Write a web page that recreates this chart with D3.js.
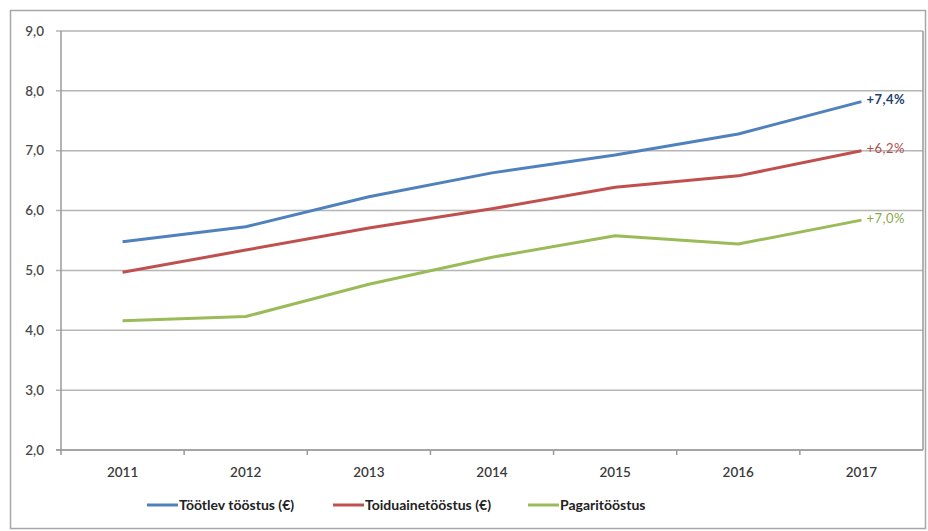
<!DOCTYPE html>
<html><head><meta charset="utf-8">
<script src="https://cdn.jsdelivr.net/npm/d3@7"></script>
<style>body{margin:0;background:#fff}svg{display:block;font-family:Lato,"Open Sans",sans-serif}</style>
</head><body><svg id="c" width="928" height="531"></svg>
<script>
const years = ["2011","2012","2013","2014","2015","2016","2017"];
const tootlev = [5.48, 5.73, 6.23, 6.63, 6.93, 7.28, 7.82];
const toiduaine = [4.97, 5.34, 5.71, 6.03, 6.39, 6.58, 7.00];
const pagari = [4.16, 4.23, 4.77, 5.22, 5.58, 5.44, 5.84];
const seriesNames = ["Töötlev tööstus (€)", "Toiduainetööstus (€)", "Pagaritööstus"];
const endLabels = ["+7,4%", "+6,2%", "+7,0%"];
const yTicks = [2, 3, 4, 5, 6, 7, 8, 9];

const colors = ["#4F81BD", "#C0504D", "#9BBB59"];
const labelColors = ["#1F3E6E", "#B0504D", "#8AAA4A"];
const series = [tootlev, toiduaine, pagari];

const svg = d3.select("#c");
const L = 61, R = 923, T = 31, B = 450;

svg.append("rect").attr("x", 10.5).attr("y", 10.5).attr("width", 915).attr("height", 518)
  .attr("fill", "#fff").attr("stroke", "#A6A6A6").attr("stroke-width", 1.5);

const x = d3.scaleBand().domain(years).range([L, R]);
const y = d3.scaleLinear().domain([2, 9]).range([B, T]);

svg.append("g").selectAll("line").data(yTicks).join("line")
  .attr("x1", L - 5).attr("x2", R).attr("y1", d => y(d)).attr("y2", d => y(d))
  .attr("stroke", "#B5B5B5").attr("stroke-width", 1.5);

svg.append("line").attr("x1", L).attr("x2", L).attr("y1", T).attr("y2", B + 5).attr("stroke", "#9A9A9A").attr("stroke-width", 1.5);
svg.append("line").attr("x1", R).attr("x2", R).attr("y1", T).attr("y2", B).attr("stroke", "#9A9A9A").attr("stroke-width", 1.5);
svg.append("line").attr("x1", L - 5).attr("x2", R).attr("y1", B).attr("y2", B).attr("stroke", "#9A9A9A").attr("stroke-width", 1.5);

svg.append("g").selectAll("line").data(years.slice(1)).join("line")
  .attr("x1", d => x(d)).attr("x2", d => x(d)).attr("y1", B).attr("y2", B + 5)
  .attr("stroke", "#9A9A9A").attr("stroke-width", 1.5);

svg.append("g").selectAll("text").data(yTicks).join("text")
  .attr("x", 44).attr("y", d => y(d)).attr("dy", "0.35em").attr("text-anchor", "end")
  .attr("font-size", 13.5).attr("font-weight", 600).attr("fill", "#4a4a4a").text(d => d.toFixed(1).replace(".", ","));

svg.append("g").selectAll("text").data(years).join("text")
  .attr("x", d => x(d) + x.bandwidth() / 2).attr("y", 472).attr("dy", "0.35em").attr("text-anchor", "middle")
  .attr("font-size", 13.5).attr("font-weight", 600).attr("fill", "#3a3a3a").text(d => d);

const line = d3.line().x((d, i) => x(years[i]) + x.bandwidth() / 2).y(d => y(d));
series.forEach((s, k) => {
  svg.append("path").attr("d", line(s)).attr("fill", "none").attr("stroke", colors[k])
    .attr("stroke-width", 3).attr("stroke-linejoin", "round");
  svg.append("text").attr("x", x(years[6]) + x.bandwidth() / 2 + 5).attr("y", y(s[6]) - 2)
    .attr("dy", "0.35em").attr("font-size", 13).attr("font-weight", k === 0 ? "bold" : "normal")
    .attr("letter-spacing", 0.5)
    .attr("fill", labelColors[k]).text(endLabels[k]);
});

const legX = [147, 333, 528];
seriesNames.forEach((n, k) => {
  svg.append("line").attr("x1", legX[k]).attr("x2", legX[k] + 31).attr("y1", 505).attr("y2", 505)
    .attr("stroke", colors[k]).attr("stroke-width", 3);
  svg.append("text").attr("x", legX[k] + 32).attr("y", 505).attr("dy", "0.35em")
    .attr("font-size", 14).attr("font-weight", "bold").attr("fill", "#222").text(n);
});
</script></body></html>
